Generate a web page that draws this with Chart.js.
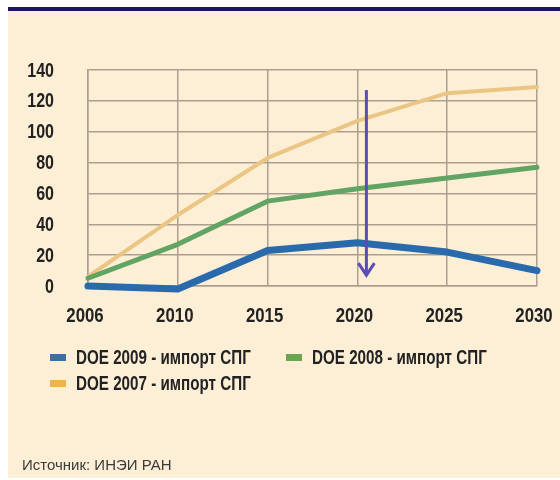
<!DOCTYPE html>
<html>
<head>
<meta charset="utf-8">
<script src="https://cdn.jsdelivr.net/npm/chart.js@4"></script>
<style>
  html, body { margin: 0; padding: 0; background: #fff; }
  #page { position: relative; width: 560px; height: 480px; overflow: hidden; }
  #panel { position: absolute; left: 8px; top: 7px; width: 552px; height: 471px; background: #fdeed6; border-top: 4px solid #1c1464; box-sizing: border-box; }
  #wrap { position: absolute; left: 0; top: 0; width: 560px; height: 480px; }
  #legend { position: absolute; left: 50px; top: 346px; width: 500px; font: bold 20px 'Liberation Sans', Arial, sans-serif; color: #222; }
  .item { position: absolute; white-space: nowrap; line-height: 22px; }
  .item span.sw { position: absolute; left: 0; top: 8px; width: 16px; height: 7px; }
  .item span.tx { position: absolute; left: 26px; top: 0; transform: scaleX(0.76); transform-origin: 0 50%; }
  #source { position: absolute; left: 22px; top: 456px; font: 15px 'Liberation Sans', Arial, sans-serif; color: #3a3a3a; }
</style>
</head>
<body>
<div id="page">
  <div id="panel"></div>
  <div id="wrap"><canvas id="chart" width="560" height="480"></canvas></div>
  <div id="legend"></div>
  <div id="source">Источник: ИНЭИ РАН</div>
</div>
<script>
// data
const years = ['2006', '2010', '2015', '2020', '2025', '2030'];
const doe2009 = [0, -2, 23, 28, 22, 10];
const doe2008 = [5, 27, 55, 63, 70, 77];
const doe2007 = [6, 46, 83, 107, 125, 129];
const seriesNames = ['DOE 2009 - импорт СПГ', 'DOE 2008 - импорт СПГ', 'DOE 2007 - импорт СПГ'];
const lineColors = ['#286aab', '#62a463', '#eac584'];
const legendColors = ['#3e6ea8', '#6aa652', '#f0b24b'];

const tickFont = "bold {size}px 'Liberation Sans', Arial, sans-serif";
const squeeze = 0.8; // original uses a condensed face

// tick labels drawn squeezed, since no narrow font is installed
const tickLabels = {
  id: 'tickLabels',
  afterDraw(chart) {
    const { ctx, chartArea, scales } = chart;
    ctx.save();
    ctx.fillStyle = '#222';
    ctx.textBaseline = 'middle';
    ctx.textAlign = 'center';
    ctx.font = tickFont.replace('{size}', 21);
    scales.x.ticks.forEach((t, i) => {
      ctx.save();
      ctx.translate(scales.x.getPixelForTick(i) - 3, chartArea.bottom + 30);
      ctx.scale(squeeze, 1);
      ctx.fillText(scales.x.getLabelForValue(t.value), 0, 0);
      ctx.restore();
    });
    ctx.textAlign = 'right';
    ctx.font = tickFont.replace('{size}', 20);
    scales.y.ticks.forEach((t) => {
      ctx.save();
      ctx.translate(chartArea.left - 34, scales.y.getPixelForValue(t.value) + 1);
      ctx.scale(squeeze, 1);
      ctx.fillText(t.label, 0, 0);
      ctx.restore();
    });
    ctx.restore();
  }
};

// purple arrow pointing down at 2020
const arrowPlugin = {
  id: 'arrow',
  afterDatasetsDraw(chart) {
    const ctx = chart.ctx;
    const x = chart.scales.x.getPixelForValue(3) + 9;
    const yTop = chart.scales.y.getPixelForValue(127);
    const yBot = chart.scales.y.getPixelForValue(7);
    ctx.save();
    ctx.strokeStyle = '#5a4db6';
    ctx.lineWidth = 3;
    ctx.beginPath();
    ctx.moveTo(x, yTop);
    ctx.lineTo(x, yBot);
    ctx.stroke();
    ctx.beginPath();
    ctx.moveTo(x - 8, yBot - 12);
    ctx.lineTo(x, yBot);
    ctx.lineTo(x + 8, yBot - 12);
    ctx.stroke();
    ctx.restore();
  }
};

const ctx = document.getElementById('chart').getContext('2d');
new Chart(ctx, {
  type: 'line',
  data: {
    labels: years,
    datasets: [
      { label: seriesNames[0], data: doe2009, borderColor: lineColors[0], borderWidth: 7 },
      { label: seriesNames[1], data: doe2008, borderColor: lineColors[1], borderWidth: 5 },
      { label: seriesNames[2], data: doe2007, borderColor: lineColors[2], borderWidth: 4 }
    ]
  },
  options: {
    responsive: false,
    animation: false,
    layout: { padding: { left: 26, right: 23, top: 70, bottom: 153 } },
    elements: {
      point: { radius: 0 },
      line: { tension: 0, borderJoinStyle: 'round', borderCapStyle: 'round' }
    },
    datasets: { line: { clip: false } },
    plugins: {
      legend: { display: false },
      tooltip: { enabled: false }
    },
    scales: {
      x: {
        offset: false,
        grid: { color: '#ab9f90', lineWidth: 1.5, drawTicks: false },
        border: { color: '#ab9f90', width: 1.5 },
        ticks: { display: false },
        afterFit: (axis) => { axis.height = 41; }
      },
      y: {
        min: 0,
        max: 140,
        grid: { color: '#ab9f90', lineWidth: 1.5, drawTicks: false },
        border: { color: '#ab9f90', width: 1.5 },
        ticks: { stepSize: 20, display: false },
        afterFit: (axis) => { axis.width = 62; }
      }
    }
  },
  plugins: [arrowPlugin, tickLabels]
});

// legend in two columns like the original
const legendPos = [[0, 0], [236, 0], [0, 26]];
const legend = document.getElementById('legend');
seriesNames.forEach((name, i) => {
  const item = document.createElement('div');
  item.className = 'item';
  item.style.left = legendPos[i][0] + 'px';
  item.style.top = legendPos[i][1] + 'px';
  item.innerHTML = '<span class="sw" style="background:' + legendColors[i] + '"></span><span class="tx">' + name + '</span>';
  legend.appendChild(item);
});
</script>
</body>
</html>
